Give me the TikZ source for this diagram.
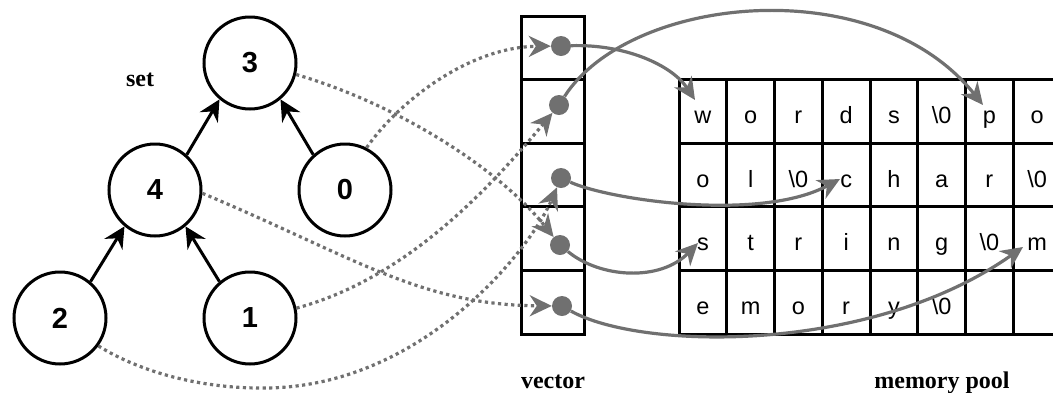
\documentclass[tikz,border=0pt]{standalone}
\usepackage{fontspec}
\newfontfamily\arial{Liberation Sans}
\newfontfamily\tnr{Liberation Serif}
\usetikzlibrary{arrows.meta,calc}
\definecolor{cg}{RGB}{112,112,112}
\begin{document}
\begin{tikzpicture}[x=1pt,y=-1pt,
  tree/.style={circle,draw,line width=3pt,minimum size=92pt,inner sep=0pt,
    font=\arial\bfseries\fontsize{29}{29}\selectfont},
  tarr/.style={draw=black,line width=3pt,-{Stealth[length=21pt,width=21pt,inset=7pt]}},
  vcell/.style={draw,line width=3pt,minimum width=63pt,minimum height=63.6pt,inner sep=0pt},
  mcell/.style={draw,line width=3pt,minimum width=47.75pt,minimum height=63.6pt,inner sep=0pt,
    text height=24pt,text depth=0pt,font=\arial\fontsize{23.5}{23.5}\selectfont},
  vdot/.style={circle,fill=cg,minimum size=20pt,inner sep=0pt},
  ptr/.style={draw=cg,line width=3.2pt,-{Stealth[length=22pt,width=21pt,inset=7pt]}},
  ref/.style={draw=cg,line width=3.2pt,dash pattern=on 3.2pt off 3.4pt,-{Stealth[length=22pt,width=21pt,inset=7pt]}},
  lbl/.style={font=\tnr\bfseries\fontsize{24}{24}\selectfont}
]
\useasboundingbox (0,0) rectangle (1053,392);

% tree
\node[tree] (c3) at (250,63) {3};
\node[tree] (c4) at (155,190) {4};
\node[tree] (c0) at (345,190) {0};
\node[tree] (c2) at (60,318) {2};
\node[tree] (c1) at (250,318) {1};
\node[lbl,anchor=base] (setl) at (140,86) {set};

\draw[tarr] (c4.48) -- (c3.-130);
\draw[tarr] (c0.132) -- (c3.-50);
\draw[tarr] (c2.50) -- (c4.-130);
\draw[tarr] (c1.130) -- (c4.-50);

% vector
\foreach \i in {0,...,4}
  \node[vcell] (v\i) at (552.5,{47.8+63.6*\i}) {};
\node[vdot] (d0) at (561,46) {};
\node[vdot] (d1) at (559,105) {};
\node[vdot] (d2) at (561,178) {};
\node[vdot] (d3) at (560,245) {};
\node[vdot] (d4) at (562,306) {};
\node[lbl,anchor=base] (vec) at (553,388) {vector};

% memory pool
\foreach \t [count=\c] in {w,o,r,d,s,\textbackslash 0,p,o}
  \node[mcell] (m1\c) at ({679+47.75*(\c-0.5)},111.4) {\t};
\foreach \t [count=\c] in {o,l,\textbackslash 0,c,h,a,r,\textbackslash 0}
  \node[mcell] (m2\c) at ({679+47.75*(\c-0.5)},175) {\t};
\foreach \t [count=\c] in {s,t,r,i,n,g,\textbackslash 0,m}
  \node[mcell] (m3\c) at ({679+47.75*(\c-0.5)},238.6) {\t};
\foreach \t [count=\c] in {e,m,o,r,y,\textbackslash 0,{},{}}
  \node[mcell] (m4\c) at ({679+47.75*(\c-0.5)},302.2) {\t};
\node[lbl,anchor=base] (mem) at (942,388) {memory pool};

% dotted references from set to vector
\draw[ref] (c0.63) .. controls (400,100) and (470,47) .. (d0);
\draw[ref] (c3.-14) .. controls (400,105) and (500,170) .. (d3);
\draw[ref] (c4.-4) .. controls (352,256) and (420,305) .. (d4);
\draw[ref] (c1.12) .. controls (400,280) and (480,200) .. (d1);
\coordinate (b2) at (260,388);
\draw[ref] (c2.-36) .. controls (140,372) and (200,388) .. (b2)
  .. controls (420,390) and (530,250) .. (d2);

% pointers from vector to memory pool
\coordinate (tw) at (695,100);
\coordinate (tp) at (983,105);
\coordinate (tc) at (840,179);
\coordinate (ts) at (698,243);
\coordinate (tm) at (1023,247);
\draw[ptr] (d0) .. controls (625,44) and (672,65) .. (tw);
\draw[ptr] (d1) .. controls (630,-5) and (875,-30) .. (tp);
\draw[ptr] (d2) .. controls (610,200) and (760,222) .. (tc);
\draw[ptr] (d3) .. controls (600,278) and (660,282) .. (ts);
\draw[ptr] (d4) .. controls (640,350) and (870,355) .. (tm);
\end{tikzpicture}
\end{document}
